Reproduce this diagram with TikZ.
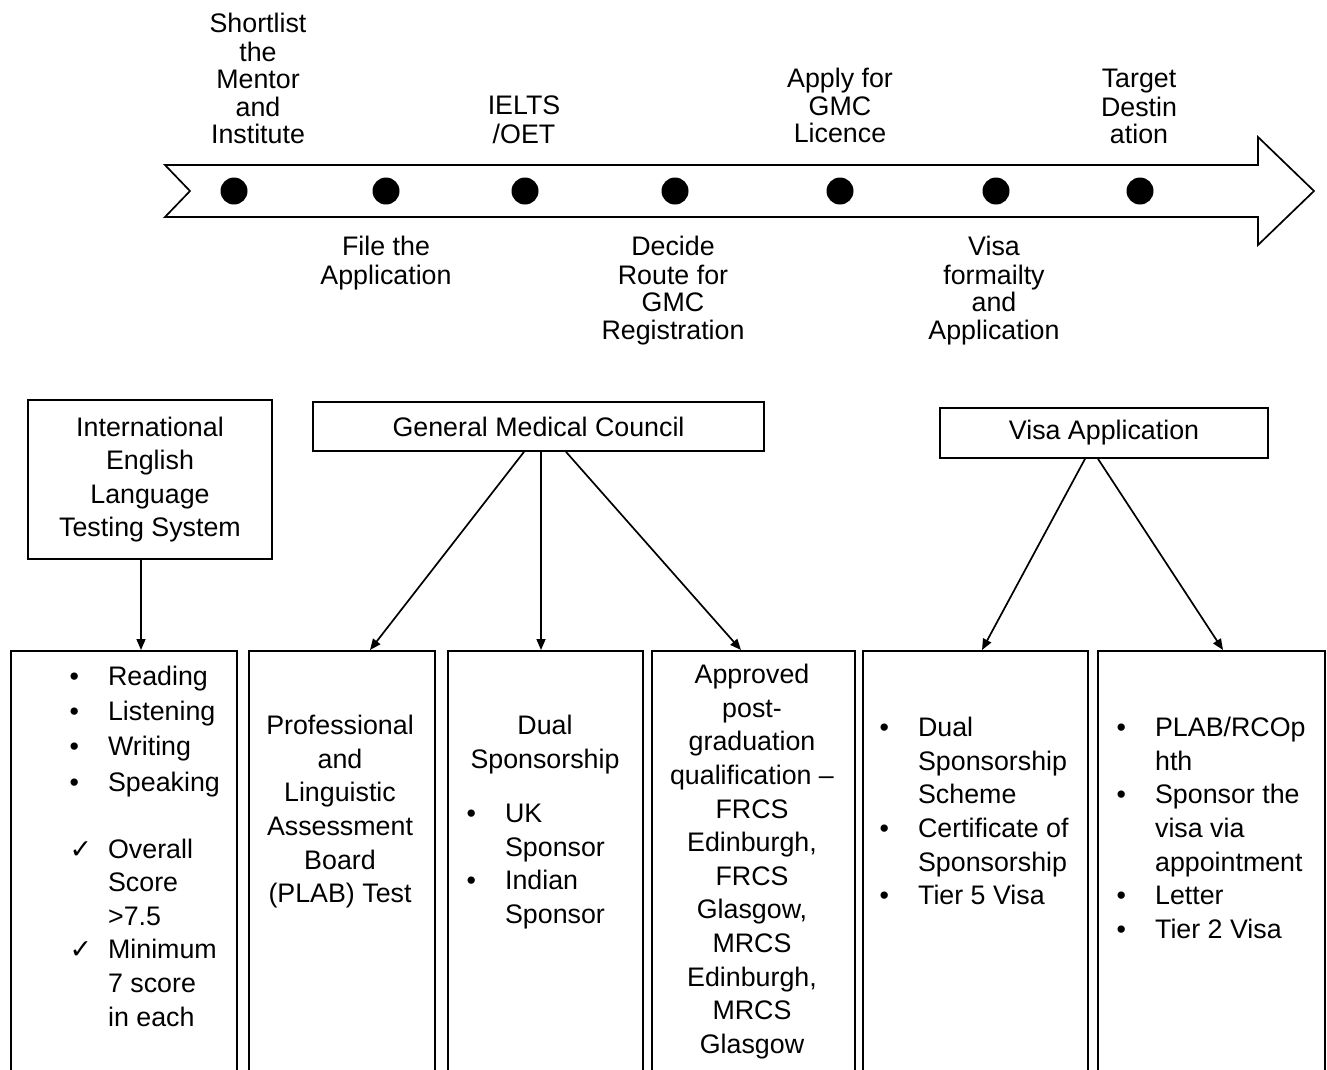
\documentclass[tikz,border=0pt]{standalone}
\usepackage{fontspec}
\setmainfont{Liberation Sans}
\newfontfamily\checkfont{DejaVu Sans}
\usetikzlibrary{arrows.meta}
\newlength{\bltw}
\setlength{\bltw}{38.5pt}
\newcommand{\toplabelfont}{\fontsize{26.8}{27.5}\selectfont}
\newcommand{\boxfont}{\fontsize{26.8}{33.6}\selectfont}
\newcommand{\bul}{\makebox[\bltw][l]{\textbullet}}
\newcommand{\tick}{\makebox[\bltw][l]{\checkfont ✓}}
\newcommand{\cont}{\hspace*{\bltw}}
\tikzset{
    milestone/.style ={
        shape=circle,
        fill=black,
        minimum size=27pt,
        inner sep=0pt
    },
    phase/.style ={
        align=center,
        anchor=north,
        inner sep=0pt,
        font=\toplabelfont
    },
    header/.style ={
        draw,
        line width=1.7pt,
        align=center,
        inner sep=0pt,
        font=\boxfont
    },
    column/.style ={
        draw,
        line width=1.7pt,
        anchor=north,
        minimum height=440pt,
        inner sep=0pt
    },
    coltext/.style ={
        anchor=north,
        align=center,
        inner sep=0pt,
        font=\boxfont
    },
    collist/.style ={
        anchor=north west,
        align=left,
        inner sep=0pt,
        font=\boxfont
    },
    link/.style ={
        line width=1.7pt,
        -{Triangle[length=11pt,width=9pt]}
    }
}
\begin{document}
\begin{tikzpicture}[x=1pt,y=-1pt]
    \useasboundingbox (0,0) rectangle (1327,1069);
    \clip (0,0) rectangle (1327,1069);
    % timeline
    \draw[line width=1.7pt] (165,165) -- (1258,165) -- (1258,137) -- (1314,191)
        -- (1258,245) -- (1258,217) -- (165,217) -- (190,191) -- cycle;
    \foreach \x/\n in {234/d1,386/d2,525/d3,675/d4,840/d5,996/d6,1140/d7}
        \node[milestone] (\n) at (\x,191) {};
    \node[phase] (shortlist) at (258,13) {\strut Shortlist\\the\\Mentor\\and\\Institute};
    \node[phase] (ielts) at (524,95) {\strut IELTS\\/OET};
    \node[phase] (apply) at (840,68) {\strut Apply for\\GMC\\Licence};
    \node[phase] (target) at (1139,68) {\strut Target\\Destin\\ation};
    \node[phase] (file) at (386,236) {\strut File the\\Application};
    \node[phase] (decide) at (673,236) {\strut Decide\\Route for\\GMC\\Registration};
    \node[phase] (formality) at (994,236) {\strut Visa\\formailty\\and\\Application};

    % headers
    \node[header, minimum width=244pt, minimum height=159pt] (iel) at (150,479.5)
        {International\\English\\Language\\Testing System};
    \node[header, minimum width=451pt, minimum height=49pt] (gmc) at (538.5,426.5)
        {General Medical Council};
    \node[header, minimum width=328pt, minimum height=50pt] (visa) at (1104,433)
        {Visa Application};

    % columns
    \node[column, minimum width=226pt] (test) at (124,650) {};
    \node[column, minimum width=186pt] (plab) at (342,650) {};
    \node[column, minimum width=195pt] (dual) at (545.5,650) {};
    \node[column, minimum width=203pt] (pg) at (753.5,650) {};
    \node[column, minimum width=225pt] (tier5) at (975.5,650) {};
    \node[column, minimum width=227pt] (tier2) at (1211.5,650) {};

    \node[collist] at (69.4,662) {\strut\bul Reading\\[1.5pt]\bul Listening\\[1.5pt]\bul Writing\\[1.5pt]\bul Speaking\\[33.4pt]
        \tick Overall\\\cont Score\\\cont >7.5\\\tick Minimum\\\cont 7 score\\\cont in each};
    \node[coltext] at (340,711) {\strut Professional\\and\\Linguistic\\Assessment\\Board\\(PLAB) Test};
    \node[coltext] at (545,711) {\strut Dual\\Sponsorship};
    \node[collist] at (466.4,799) {\strut\bul UK\\\cont Sponsor\\\bul Indian\\\cont Sponsor};
    \node[coltext] at (752,660) {\strut Approved\\post-\\graduation\\qualification –\\FRCS\\Edinburgh,\\FRCS\\Glasgow,\\MRCS\\Edinburgh,\\MRCS\\Glasgow};
    \node[collist] at (879.4,713) {\strut\bul Dual\\\cont Sponsorship\\\cont Scheme\\\bul Certificate of\\\cont Sponsorship\\\bul Tier 5 Visa};
    \node[collist] at (1116.4,713) {\strut\bul PLAB/RCOp\\\cont hth\\\bul Sponsor the\\\cont visa via\\\cont appointment\\\bul Letter\\\bul Tier 2 Visa};

    % connectors
    \draw[link] ([xshift=-9pt]iel.south) -- ([xshift=17pt]test.north);
    \draw[link] ([xshift=-14.5pt]gmc.south) -- ([xshift=28pt]plab.north);
    \draw[link] ([xshift=2.5pt]gmc.south) -- ([xshift=-4.5pt]dual.north);
    \draw[link] ([xshift=27.5pt]gmc.south) -- ([xshift=-12.5pt]pg.north);
    \draw[link] ([xshift=-19pt]visa.south) -- ([xshift=6.5pt]tier5.north);
    \draw[link] ([xshift=-6pt]visa.south) -- ([xshift=11.5pt]tier2.north);
\end{tikzpicture}
\end{document}
